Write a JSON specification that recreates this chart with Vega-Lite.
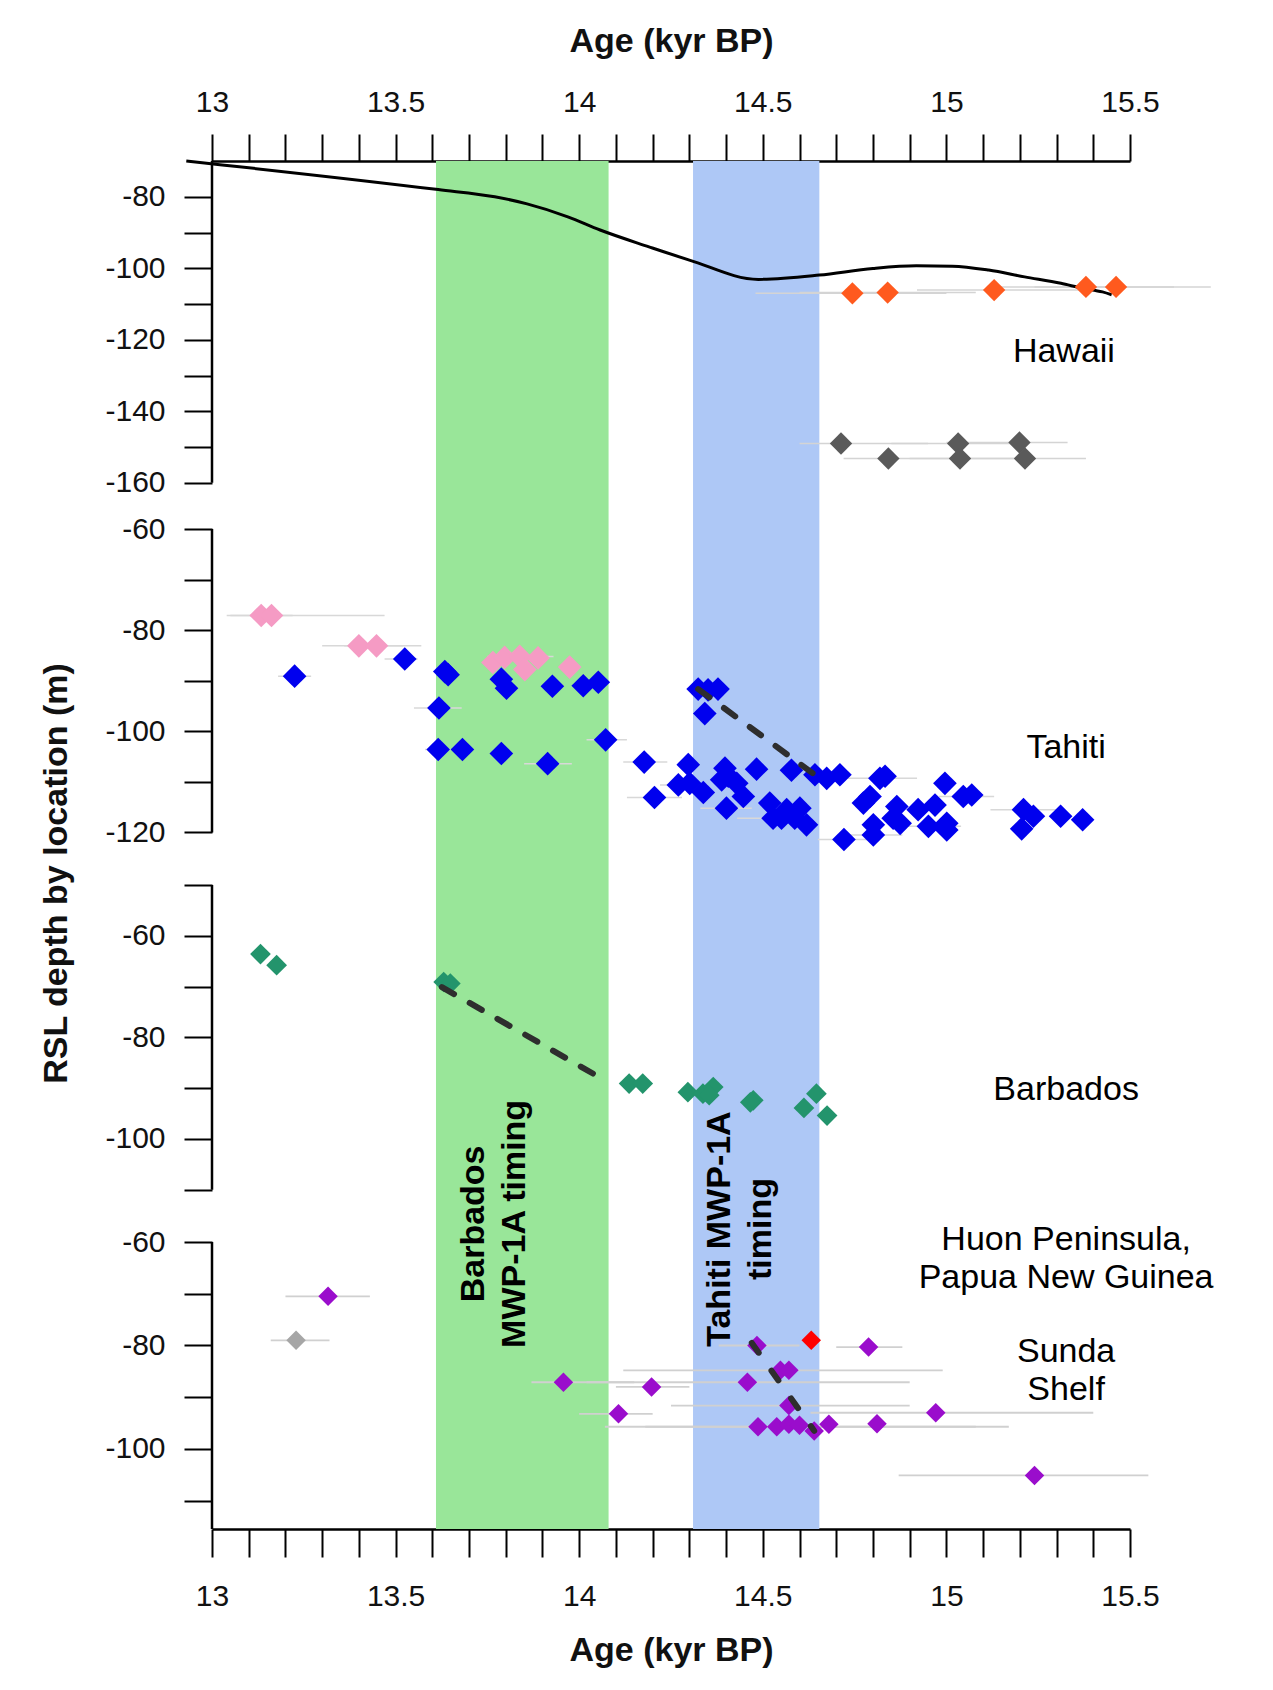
{
  "$schema": "https://vega.github.io/schema/vega-lite/v6.json",
  "usermeta": {"embedOptions": {"actions": false}},
  "background": "white",
  "padding": {"left": 39, "top": 24, "right": 20, "bottom": 10},
  "autosize": {"type": "pad"},
  "bounds": "flush",
  "spacing": 0,
  "config": {
    "font": "Liberation Sans",
    "view": {"stroke": null},
    "axis": {"grid": false, "domainColor": "black", "domainWidth": 2.5, "tickColor": "black", "tickWidth": 2, "tickSize": 28, "labelFont": "Liberation Sans", "labelFontSize": 30, "labelColor": "#111111", "titleFont": "Liberation Sans", "titleFontSize": 34, "titleFontWeight": "bold", "titleColor": "#111111", "labelFlush": false, "labelOverlap": false}
  },
  "datasets": {
    "bands": [
      {"x0": 13.61, "x1": 14.08, "c": "#99E699"},
      {"x0": 14.31, "x1": 14.654, "c": "#AEC8F6"}
    ],
    "axl": [
      {"p": "H", "y": -70, "y2": -160},
      {"p": "T", "y": -60, "y2": -120},
      {"p": "B", "y": -50, "y2": -110},
      {"p": "U", "y": -60, "y2": -115.46}
    ],
    "curve": [
      {"x": 12.93, "y": -70.0}, {"x": 13.616, "y": -78.0}, {"x": 13.77, "y": -80.0}, {"x": 13.858, "y": -82.0},
      {"x": 13.969, "y": -85.6}, {"x": 14.057, "y": -89.3}, {"x": 14.19, "y": -94.0}, {"x": 14.3, "y": -97.7},
      {"x": 14.488, "y": -103.1}, {"x": 14.654, "y": -101.9}, {"x": 14.8, "y": -100.05}, {"x": 14.918, "y": -99.3},
      {"x": 15.016, "y": -99.4}, {"x": 15.115, "y": -100.5}, {"x": 15.213, "y": -102.4}, {"x": 15.312, "y": -104.2},
      {"x": 15.371, "y": -105.6}, {"x": 15.425, "y": -106.6}, {"x": 15.45, "y": -107.4}
    ],
    "segs": [
      {"p": "T", "x": 14.324, "y": -91.65}, {"p": "T", "x": 14.647, "y": -108.9},
      {"p": "B", "x": 13.626, "y": -70.1}, {"p": "B", "x": 14.078, "y": -88.8},
      {"p": "U", "x": 14.47, "y": -79.5}, {"p": "U", "x": 14.64, "y": -96.5}
    ],
    "labels": [
      {"p": "H", "x": 15.32, "y": -123.4, "t": "Hawaii"},
      {"p": "T", "x": 15.326, "y": -103.4, "t": "Tahiti"},
      {"p": "B", "x": 15.326, "y": -90.4, "t": "Barbados"},
      {"p": "U", "x": 15.326, "y": -59.6, "t": "Huon Peninsula,\nPapua New Guinea"},
      {"p": "U", "x": 15.326, "y": -81.3, "t": "Sunda\nShelf"}
    ],
    "blabels": [
      {"x": 13.713, "y": -56.5, "t": "Barbados\nMWP-1A timing"},
      {"x": 14.383, "y": -57.5, "t": "Tahiti MWP-1A\ntiming"}
    ],
    "pts": [
      {"p": "H", "x": 14.744, "y": -107.0, "g": "orange", "lo": 14.48, "hi": 15.0},
      {"p": "H", "x": 14.84, "y": -106.8, "g": "orange", "lo": 14.6, "hi": 15.08},
      {"p": "H", "x": 15.13, "y": -106.1, "g": "orange", "lo": 14.92, "hi": 15.36},
      {"p": "H", "x": 15.38, "y": -105.2, "g": "orange", "lo": 15.12, "hi": 15.62},
      {"p": "H", "x": 15.462, "y": -105.2, "g": "orange", "lo": 15.24, "hi": 15.72},
      {"p": "H", "x": 14.713, "y": -149.0, "g": "gray", "lo": 14.6, "hi": 14.95},
      {"p": "H", "x": 14.842, "y": -153.2, "g": "gray", "lo": 14.72, "hi": 15.05},
      {"p": "H", "x": 15.032, "y": -149.0, "g": "gray", "lo": 14.85, "hi": 15.2},
      {"p": "H", "x": 15.037, "y": -153.2, "g": "gray", "lo": 14.9, "hi": 15.22},
      {"p": "H", "x": 15.199, "y": -148.7, "g": "gray", "lo": 15.0, "hi": 15.33},
      {"p": "H", "x": 15.214, "y": -153.2, "g": "gray", "lo": 15.05, "hi": 15.38},

      {"p": "T", "x": 13.134, "y": -77.1, "g": "pink", "lo": 13.05, "hi": 13.22},
      {"p": "T", "x": 13.162, "y": -77.1, "g": "pink", "lo": 13.04, "hi": 13.47},
      {"p": "T", "x": 13.4, "y": -83.1, "g": "pink", "lo": 13.3, "hi": 13.52},
      {"p": "T", "x": 13.448, "y": -83.1, "g": "pink", "lo": 13.36, "hi": 13.57},
      {"p": "T", "x": 13.765, "y": -86.4, "g": "pink"},
      {"p": "T", "x": 13.797, "y": -85.4, "g": "pink"},
      {"p": "T", "x": 13.838, "y": -85.2, "g": "pink", "lo": 13.75, "hi": 13.93},
      {"p": "T", "x": 13.852, "y": -87.8, "g": "pink"},
      {"p": "T", "x": 13.888, "y": -85.5, "g": "pink"},
      {"p": "T", "x": 13.974, "y": -87.3, "g": "pink"},

      {"p": "T", "x": 13.225, "y": -89.1, "g": "blue", "lo": 13.18, "hi": 13.27},
      {"p": "T", "x": 13.525, "y": -85.7, "g": "blue", "lo": 13.47, "hi": 13.56},
      {"p": "T", "x": 13.634, "y": -88.2, "g": "blue"},
      {"p": "T", "x": 13.643, "y": -88.8, "g": "blue"},
      {"p": "T", "x": 13.618, "y": -95.4, "g": "blue", "lo": 13.55, "hi": 13.68},
      {"p": "T", "x": 13.788, "y": -89.7, "g": "blue"},
      {"p": "T", "x": 13.802, "y": -91.5, "g": "blue"},
      {"p": "T", "x": 13.927, "y": -91.1, "g": "blue"},
      {"p": "T", "x": 14.011, "y": -91.0, "g": "blue"},
      {"p": "T", "x": 14.052, "y": -90.3, "g": "blue"},
      {"p": "T", "x": 13.616, "y": -103.6, "g": "blue", "lo": 13.58, "hi": 13.65},
      {"p": "T", "x": 13.682, "y": -103.6, "g": "blue"},
      {"p": "T", "x": 13.788, "y": -104.4, "g": "blue"},
      {"p": "T", "x": 13.914, "y": -106.4, "g": "blue", "lo": 13.85, "hi": 13.98},
      {"p": "T", "x": 14.072, "y": -101.7, "g": "blue", "lo": 14.02, "hi": 14.13},
      {"p": "T", "x": 14.177, "y": -106.1, "g": "blue", "lo": 14.12, "hi": 14.24},
      {"p": "T", "x": 14.205, "y": -113.1, "g": "blue", "lo": 14.13, "hi": 14.28},
      {"p": "T", "x": 14.324, "y": -91.65, "g": "blue"},
      {"p": "T", "x": 14.351, "y": -91.8, "g": "blue"},
      {"p": "T", "x": 14.378, "y": -91.65, "g": "blue"},
      {"p": "T", "x": 14.342, "y": -96.5, "g": "blue"},
      {"p": "T", "x": 14.297, "y": -106.6, "g": "blue"},
      {"p": "T", "x": 14.27, "y": -110.6, "g": "blue", "lo": 14.22, "hi": 14.35},
      {"p": "T", "x": 14.301, "y": -110.3, "g": "blue"},
      {"p": "T", "x": 14.338, "y": -112.1, "g": "blue"},
      {"p": "T", "x": 14.397, "y": -107.3, "g": "blue"},
      {"p": "T", "x": 14.406, "y": -108.9, "g": "blue"},
      {"p": "T", "x": 14.388, "y": -109.6, "g": "blue"},
      {"p": "T", "x": 14.429, "y": -110.3, "g": "blue"},
      {"p": "T", "x": 14.447, "y": -112.9, "g": "blue"},
      {"p": "T", "x": 14.401, "y": -115.2, "g": "blue", "lo": 14.33, "hi": 14.47},
      {"p": "T", "x": 14.483, "y": -107.5, "g": "blue"},
      {"p": "T", "x": 14.578, "y": -107.7, "g": "blue"},
      {"p": "T", "x": 14.519, "y": -114.2, "g": "blue"},
      {"p": "T", "x": 14.528, "y": -117.2, "g": "blue", "lo": 14.43, "hi": 14.62},
      {"p": "T", "x": 14.565, "y": -115.5, "g": "blue"},
      {"p": "T", "x": 14.601, "y": -115.2, "g": "blue"},
      {"p": "T", "x": 14.619, "y": -118.5, "g": "blue"},
      {"p": "T", "x": 14.587, "y": -117.2, "g": "blue"},
      {"p": "T", "x": 14.551, "y": -117.2, "g": "blue"},
      {"p": "T", "x": 14.642, "y": -108.6, "g": "blue"},
      {"p": "T", "x": 14.674, "y": -109.3, "g": "blue"},
      {"p": "T", "x": 14.71, "y": -108.6, "g": "blue"},
      {"p": "T", "x": 14.721, "y": -121.4, "g": "blue", "lo": 14.65, "hi": 14.79},
      {"p": "T", "x": 14.819, "y": -109.3, "g": "blue", "lo": 14.73, "hi": 14.92},
      {"p": "T", "x": 14.833, "y": -108.9, "g": "blue"},
      {"p": "T", "x": 14.792, "y": -112.9, "g": "blue"},
      {"p": "T", "x": 14.774, "y": -114.2, "g": "blue"},
      {"p": "T", "x": 14.801, "y": -118.5, "g": "blue"},
      {"p": "T", "x": 14.801, "y": -120.5, "g": "blue", "lo": 14.72, "hi": 14.88},
      {"p": "T", "x": 14.865, "y": -114.9, "g": "blue"},
      {"p": "T", "x": 14.874, "y": -118.2, "g": "blue"},
      {"p": "T", "x": 14.855, "y": -117.2, "g": "blue"},
      {"p": "T", "x": 14.923, "y": -115.5, "g": "blue"},
      {"p": "T", "x": 14.969, "y": -114.6, "g": "blue"},
      {"p": "T", "x": 14.951, "y": -118.8, "g": "blue", "lo": 14.86, "hi": 15.04},
      {"p": "T", "x": 15.001, "y": -118.2, "g": "blue"},
      {"p": "T", "x": 15.001, "y": -119.5, "g": "blue"},
      {"p": "T", "x": 14.996, "y": -110.3, "g": "blue"},
      {"p": "T", "x": 15.046, "y": -112.9, "g": "blue", "lo": 14.98, "hi": 15.13},
      {"p": "T", "x": 15.069, "y": -112.6, "g": "blue"},
      {"p": "T", "x": 15.21, "y": -115.5, "g": "blue", "lo": 15.12, "hi": 15.3},
      {"p": "T", "x": 15.237, "y": -116.8, "g": "blue"},
      {"p": "T", "x": 15.205, "y": -119.3, "g": "blue"},
      {"p": "T", "x": 15.311, "y": -116.8, "g": "blue"},
      {"p": "T", "x": 15.371, "y": -117.5, "g": "blue"},

      {"p": "B", "x": 13.132, "y": -63.6, "g": "teal"},
      {"p": "B", "x": 13.176, "y": -65.8, "g": "teal"},
      {"p": "B", "x": 13.631, "y": -69.1, "g": "teal"},
      {"p": "B", "x": 13.649, "y": -69.4, "g": "teal"},
      {"p": "B", "x": 14.136, "y": -89.1, "g": "teal"},
      {"p": "B", "x": 14.173, "y": -89.1, "g": "teal"},
      {"p": "B", "x": 14.296, "y": -90.8, "g": "teal"},
      {"p": "B", "x": 14.337, "y": -91.1, "g": "teal"},
      {"p": "B", "x": 14.365, "y": -89.8, "g": "teal"},
      {"p": "B", "x": 14.354, "y": -91.4, "g": "teal"},
      {"p": "B", "x": 14.474, "y": -92.4, "g": "teal"},
      {"p": "B", "x": 14.466, "y": -92.8, "g": "teal"},
      {"p": "B", "x": 14.646, "y": -91.1, "g": "teal"},
      {"p": "B", "x": 14.612, "y": -93.9, "g": "teal"},
      {"p": "B", "x": 14.675, "y": -95.4, "g": "teal"},

      {"p": "U", "x": 13.316, "y": -70.5, "g": "purple", "lo": 13.2, "hi": 13.43},
      {"p": "U", "x": 13.229, "y": -79.0, "g": "lgray", "lo": 13.16, "hi": 13.32},
      {"p": "U", "x": 13.957, "y": -87.1, "g": "purple", "lo": 13.87, "hi": 14.15},
      {"p": "U", "x": 14.197, "y": -88.0, "g": "purple", "lo": 14.1, "hi": 14.3},
      {"p": "U", "x": 14.107, "y": -93.2, "g": "purple", "lo": 14.0, "hi": 14.2},
      {"p": "U", "x": 14.484, "y": -80.0, "g": "purple", "lo": 14.38, "hi": 14.6},
      {"p": "U", "x": 14.632, "y": -79.0, "g": "red"},
      {"p": "U", "x": 14.788, "y": -80.3, "g": "purple", "lo": 14.7, "hi": 14.88},
      {"p": "U", "x": 14.458, "y": -87.1, "g": "purple", "lo": 14.02, "hi": 14.9},
      {"p": "U", "x": 14.548, "y": -84.8, "g": "purple", "lo": 14.12, "hi": 14.99},
      {"p": "U", "x": 14.571, "y": -84.8, "g": "purple"},
      {"p": "U", "x": 14.571, "y": -91.6, "g": "purple", "lo": 14.25, "hi": 14.9},
      {"p": "U", "x": 14.487, "y": -95.7, "g": "purple", "lo": 14.07, "hi": 15.17},
      {"p": "U", "x": 14.538, "y": -95.7, "g": "purple", "lo": 14.18, "hi": 15.08},
      {"p": "U", "x": 14.571, "y": -95.2, "g": "purple"},
      {"p": "U", "x": 14.6, "y": -95.4, "g": "purple"},
      {"p": "U", "x": 14.64, "y": -96.5, "g": "purple"},
      {"p": "U", "x": 14.68, "y": -95.2, "g": "purple"},
      {"p": "U", "x": 14.811, "y": -95.1, "g": "purple"},
      {"p": "U", "x": 14.971, "y": -93.0, "g": "purple", "lo": 14.63, "hi": 15.4},
      {"p": "U", "x": 15.24, "y": -105.1, "g": "purple", "lo": 14.87, "hi": 15.55}
    ]
  },
  "vconcat": [
    {
      "width": 918, "height": 368,
      "layer": [
        {"data": {"name": "bands"}, "mark": {"type": "rect"},
         "encoding": {"x": {"field": "x0", "type": "quantitative", "scale": {"domain": [13, 15.5], "nice": false, "zero": false}}, "x2": {"field": "x1"}, "color": {"field": "c", "type": "nominal", "scale": null, "legend": null}}},
        {"data": {"name": "axl"}, "transform": [{"filter": "datum.p == 'H'"}], "mark": {"type": "rule", "color": "black", "strokeWidth": 2.5},
         "encoding": {"x": {"datum": 13, "type": "quantitative", "scale": {"domain": [13, 15.5], "nice": false, "zero": false}}, "y": {"field": "y", "type": "quantitative", "scale": {"domain": [-172.9, -70], "nice": false, "zero": false}}, "y2": {"field": "y2"}}},
        {"data": {"name": "pts"}, "transform": [{"filter": "datum.p == 'H' && isValid(datum.lo)"}], "mark": {"type": "rule", "color": "#D4D4D4", "strokeWidth": 1.5},
         "encoding": {"x": {"field": "lo", "type": "quantitative", "scale": {"domain": [13, 15.5], "nice": false, "zero": false}}, "x2": {"field": "hi"}, "y": {"field": "y", "type": "quantitative", "scale": {"domain": [-172.9, -70], "nice": false, "zero": false}}}},
        {"data": {"name": "curve"}, "mark": {"type": "line", "color": "black", "strokeWidth": 3, "interpolate": "monotone"},
         "encoding": {"x": {"field": "x", "type": "quantitative", "scale": {"domain": [13, 15.5], "nice": false, "zero": false}}, "y": {"field": "y", "type": "quantitative", "scale": {"domain": [-172.9, -70], "nice": false, "zero": false}}}},
        {"data": {"name": "pts"}, "transform": [{"filter": "datum.p == 'H'"}], "mark": {"type": "point", "shape": "diamond", "filled": true, "size": 500, "opacity": 1},
         "encoding": {
           "x": {"field": "x", "type": "quantitative", "scale": {"domain": [13, 15.5], "nice": false, "zero": false},
                 "axis": {"orient": "top", "title": "Age (kyr BP)", "tickCount": 40, "values": [13, 13.1, 13.2, 13.3, 13.4, 13.5, 13.6, 13.7, 13.8, 13.9, 14, 14.1, 14.2, 14.3, 14.4, 14.5, 14.6, 14.7, 14.8, 14.9, 15, 15.1, 15.2, 15.3, 15.4, 15.5],
                          "labelExpr": "abs(datum.value*2 - round(datum.value*2)) < 0.01 ? format(datum.value, '~g') : ''", "tickSize": 27, "labelPadding": 17, "titlePadding": 29, "labelAngle": 0}},
           "y": {"field": "y", "type": "quantitative", "scale": {"domain": [-172.9, -70], "nice": false, "zero": false},
                 "axis": {"title": null, "domain": false, "tickCount": 20, "values": [-80, -90, -100, -110, -120, -130, -140, -150, -160], "labelExpr": "datum.value % 20 == 0 ? '' + datum.value : ''", "tickSize": 28, "labelPadding": 19}},
           "color": {"field": "g", "type": "nominal", "scale": {"domain": ["orange", "gray", "pink", "blue", "teal", "purple", "lgray", "red"], "range": ["#FF5A1E", "#5A5A5A", "#F59BC4", "#0000EE", "#23946C", "#9A0DCC", "#A6A6A6", "#FF0000"]}, "legend": null}}},
        {"data": {"name": "labels"}, "transform": [{"filter": "datum.p == 'H'"}], "mark": {"type": "text", "fontSize": 34, "lineBreak": "\n", "lineHeight": 38, "align": "center", "baseline": "middle", "color": "black"},
         "encoding": {"x": {"field": "x", "type": "quantitative", "scale": {"domain": [13, 15.5], "nice": false, "zero": false}}, "y": {"field": "y", "type": "quantitative", "scale": {"domain": [-172.9, -70], "nice": false, "zero": false}}, "text": {"field": "t"}}}
      ]
    },
    {
      "width": 918, "height": 356,
      "layer": [
        {"data": {"name": "bands"}, "mark": {"type": "rect"},
         "encoding": {"x": {"field": "x0", "type": "quantitative", "scale": {"domain": [13, 15.5], "nice": false, "zero": false}, "axis": null}, "x2": {"field": "x1"}, "color": {"field": "c", "type": "nominal", "scale": null, "legend": null}}},
        {"data": {"name": "axl"}, "transform": [{"filter": "datum.p == 'T'"}], "mark": {"type": "rule", "color": "black", "strokeWidth": 2.5},
         "encoding": {"x": {"datum": 13, "type": "quantitative", "scale": {"domain": [13, 15.5], "nice": false, "zero": false}, "axis": null}, "y": {"field": "y", "type": "quantitative", "scale": {"domain": [-130.4, -60], "nice": false, "zero": false}}, "y2": {"field": "y2"}}},
        {"data": {"name": "pts"}, "transform": [{"filter": "datum.p == 'T' && isValid(datum.lo)"}], "mark": {"type": "rule", "color": "#D8D8D8", "strokeWidth": 1.5},
         "encoding": {"x": {"field": "lo", "type": "quantitative", "scale": {"domain": [13, 15.5], "nice": false, "zero": false}, "axis": null}, "x2": {"field": "hi"}, "y": {"field": "y", "type": "quantitative", "scale": {"domain": [-130.4, -60], "nice": false, "zero": false}}}},
        {"data": {"name": "pts"}, "transform": [{"filter": "datum.p == 'T'"}], "mark": {"type": "point", "shape": "diamond", "filled": true, "size": 560, "opacity": 1},
         "encoding": {
           "x": {"field": "x", "type": "quantitative", "scale": {"domain": [13, 15.5], "nice": false, "zero": false}, "axis": null},
           "y": {"field": "y", "type": "quantitative", "scale": {"domain": [-130.4, -60], "nice": false, "zero": false},
                 "axis": {"title": "RSL depth by location (m)", "titleX": -139, "titleY": 344, "domain": false, "tickCount": 20, "values": [-60, -70, -80, -90, -100, -110, -120], "labelExpr": "datum.value % 20 == 0 ? '' + datum.value : ''", "tickSize": 28, "labelPadding": 19}},
           "color": {"field": "g", "type": "nominal", "scale": {"domain": ["orange", "gray", "pink", "blue", "teal", "purple", "lgray", "red"], "range": ["#FF5A1E", "#5A5A5A", "#F59BC4", "#0000EE", "#23946C", "#9A0DCC", "#A6A6A6", "#FF0000"]}, "legend": null}}},
        {"data": {"name": "segs"}, "transform": [{"filter": "datum.p == 'T'"}], "mark": {"type": "line", "color": "#2E2E2E", "strokeWidth": 6, "strokeDash": [14, 18], "strokeCap": "round"},
         "encoding": {"x": {"field": "x", "type": "quantitative", "scale": {"domain": [13, 15.5], "nice": false, "zero": false}, "axis": null}, "y": {"field": "y", "type": "quantitative", "scale": {"domain": [-130.4, -60], "nice": false, "zero": false}}}},
        {"data": {"name": "labels"}, "transform": [{"filter": "datum.p == 'T'"}], "mark": {"type": "text", "fontSize": 34, "lineBreak": "\n", "lineHeight": 38, "align": "center", "baseline": "middle", "color": "black"},
         "encoding": {"x": {"field": "x", "type": "quantitative", "scale": {"domain": [13, 15.5], "nice": false, "zero": false}, "axis": null}, "y": {"field": "y", "type": "quantitative", "scale": {"domain": [-130.4, -60], "nice": false, "zero": false}}, "text": {"field": "t"}}}
      ]
    },
    {
      "width": 918, "height": 357,
      "layer": [
        {"data": {"name": "bands"}, "mark": {"type": "rect"},
         "encoding": {"x": {"field": "x0", "type": "quantitative", "scale": {"domain": [13, 15.5], "nice": false, "zero": false}, "axis": null}, "x2": {"field": "x1"}, "color": {"field": "c", "type": "nominal", "scale": null, "legend": null}}},
        {"data": {"name": "axl"}, "transform": [{"filter": "datum.p == 'B'"}], "mark": {"type": "rule", "color": "black", "strokeWidth": 2.5},
         "encoding": {"x": {"datum": 13, "type": "quantitative", "scale": {"domain": [13, 15.5], "nice": false, "zero": false}, "axis": null}, "y": {"field": "y", "type": "quantitative", "scale": {"domain": [-120.3, -50], "nice": false, "zero": false}}, "y2": {"field": "y2"}}},
        {"data": {"name": "pts"}, "transform": [{"filter": "datum.p == 'B'"}], "mark": {"type": "point", "shape": "diamond", "filled": true, "size": 430, "opacity": 1},
         "encoding": {
           "x": {"field": "x", "type": "quantitative", "scale": {"domain": [13, 15.5], "nice": false, "zero": false}, "axis": null},
           "y": {"field": "y", "type": "quantitative", "scale": {"domain": [-120.3, -50], "nice": false, "zero": false},
                 "axis": {"title": null, "domain": false, "tickCount": 20, "values": [-50, -60, -70, -80, -90, -100, -110], "labelExpr": "datum.value % 20 == 0 ? '' + datum.value : ''", "tickSize": 28, "labelPadding": 19}},
           "color": {"field": "g", "type": "nominal", "scale": {"domain": ["orange", "gray", "pink", "blue", "teal", "purple", "lgray", "red"], "range": ["#FF5A1E", "#5A5A5A", "#F59BC4", "#0000EE", "#23946C", "#9A0DCC", "#A6A6A6", "#FF0000"]}, "legend": null}}},
        {"data": {"name": "segs"}, "transform": [{"filter": "datum.p == 'B'"}], "mark": {"type": "line", "color": "#2E2E2E", "strokeWidth": 6, "strokeDash": [14, 18], "strokeCap": "round"},
         "encoding": {"x": {"field": "x", "type": "quantitative", "scale": {"domain": [13, 15.5], "nice": false, "zero": false}, "axis": null}, "y": {"field": "y", "type": "quantitative", "scale": {"domain": [-120.3, -50], "nice": false, "zero": false}}}},
        {"data": {"name": "labels"}, "transform": [{"filter": "datum.p == 'B'"}], "mark": {"type": "text", "fontSize": 34, "lineBreak": "\n", "lineHeight": 38, "align": "center", "baseline": "middle", "color": "black"},
         "encoding": {"x": {"field": "x", "type": "quantitative", "scale": {"domain": [13, 15.5], "nice": false, "zero": false}, "axis": null}, "y": {"field": "y", "type": "quantitative", "scale": {"domain": [-120.3, -50], "nice": false, "zero": false}}, "text": {"field": "t"}}}
      ]
    },
    {
      "width": 918, "height": 287,
      "layer": [
        {"data": {"name": "bands"}, "mark": {"type": "rect"},
         "encoding": {"x": {"field": "x0", "type": "quantitative", "scale": {"domain": [13, 15.5], "nice": false, "zero": false}}, "x2": {"field": "x1"}, "color": {"field": "c", "type": "nominal", "scale": null, "legend": null}}},
        {"data": {"name": "axl"}, "transform": [{"filter": "datum.p == 'U'"}], "mark": {"type": "rule", "color": "black", "strokeWidth": 2.5},
         "encoding": {"x": {"datum": 13, "type": "quantitative", "scale": {"domain": [13, 15.5], "nice": false, "zero": false}}, "y": {"field": "y", "type": "quantitative", "scale": {"domain": [-115.46, -60], "nice": false, "zero": false}}, "y2": {"field": "y2"}}},
        {"data": {"name": "pts"}, "transform": [{"filter": "datum.p == 'U' && isValid(datum.lo)"}], "mark": {"type": "rule", "color": "#D0D0D0", "strokeWidth": 1.8},
         "encoding": {"x": {"field": "lo", "type": "quantitative", "scale": {"domain": [13, 15.5], "nice": false, "zero": false}}, "x2": {"field": "hi"}, "y": {"field": "y", "type": "quantitative", "scale": {"domain": [-115.46, -60], "nice": false, "zero": false}}}},
        {"data": {"name": "pts"}, "transform": [{"filter": "datum.p == 'U'"}], "mark": {"type": "point", "shape": "diamond", "filled": true, "size": 380, "opacity": 1},
         "encoding": {
           "x": {"field": "x", "type": "quantitative", "scale": {"domain": [13, 15.5], "nice": false, "zero": false},
                 "axis": {"orient": "bottom", "title": "Age (kyr BP)", "tickCount": 40, "values": [13, 13.1, 13.2, 13.3, 13.4, 13.5, 13.6, 13.7, 13.8, 13.9, 14, 14.1, 14.2, 14.3, 14.4, 14.5, 14.6, 14.7, 14.8, 14.9, 15, 15.1, 15.2, 15.3, 15.4, 15.5],
                          "labelExpr": "abs(datum.value*2 - round(datum.value*2)) < 0.01 ? format(datum.value, '~g') : ''", "tickSize": 28, "labelPadding": 24, "titlePadding": 22, "labelAngle": 0}},
           "y": {"field": "y", "type": "quantitative", "scale": {"domain": [-115.46, -60], "nice": false, "zero": false},
                 "axis": {"title": null, "domain": false, "tickCount": 20, "values": [-60, -70, -80, -90, -100, -110], "labelExpr": "datum.value % 20 == 0 ? '' + datum.value : ''", "tickSize": 28, "labelPadding": 19}},
           "color": {"field": "g", "type": "nominal", "scale": {"domain": ["orange", "gray", "pink", "blue", "teal", "purple", "lgray", "red"], "range": ["#FF5A1E", "#5A5A5A", "#F59BC4", "#0000EE", "#23946C", "#9A0DCC", "#A6A6A6", "#FF0000"]}, "legend": null}}},
        {"data": {"name": "segs"}, "transform": [{"filter": "datum.p == 'U'"}], "mark": {"type": "line", "color": "#2E2E2E", "strokeWidth": 6, "strokeDash": [12, 22], "strokeCap": "round"},
         "encoding": {"x": {"field": "x", "type": "quantitative", "scale": {"domain": [13, 15.5], "nice": false, "zero": false}}, "y": {"field": "y", "type": "quantitative", "scale": {"domain": [-115.46, -60], "nice": false, "zero": false}}}},
        {"data": {"name": "labels"}, "transform": [{"filter": "datum.p == 'U'"}], "mark": {"type": "text", "fontSize": 34, "lineBreak": "\n", "lineHeight": 38, "align": "center", "baseline": "middle", "color": "black"},
         "encoding": {"x": {"field": "x", "type": "quantitative", "scale": {"domain": [13, 15.5], "nice": false, "zero": false}}, "y": {"field": "y", "type": "quantitative", "scale": {"domain": [-115.46, -60], "nice": false, "zero": false}}, "text": {"field": "t"}}},
        {"data": {"name": "blabels"}, "mark": {"type": "text", "fontSize": 34, "fontWeight": "bold", "angle": 270, "lineBreak": "\n", "lineHeight": 41, "align": "center", "baseline": "middle", "color": "black"},
         "encoding": {"x": {"field": "x", "type": "quantitative", "scale": {"domain": [13, 15.5], "nice": false, "zero": false}}, "y": {"field": "y", "type": "quantitative", "scale": {"domain": [-115.46, -60], "nice": false, "zero": false}}, "text": {"field": "t"}}}
      ]
    }
  ]
}
